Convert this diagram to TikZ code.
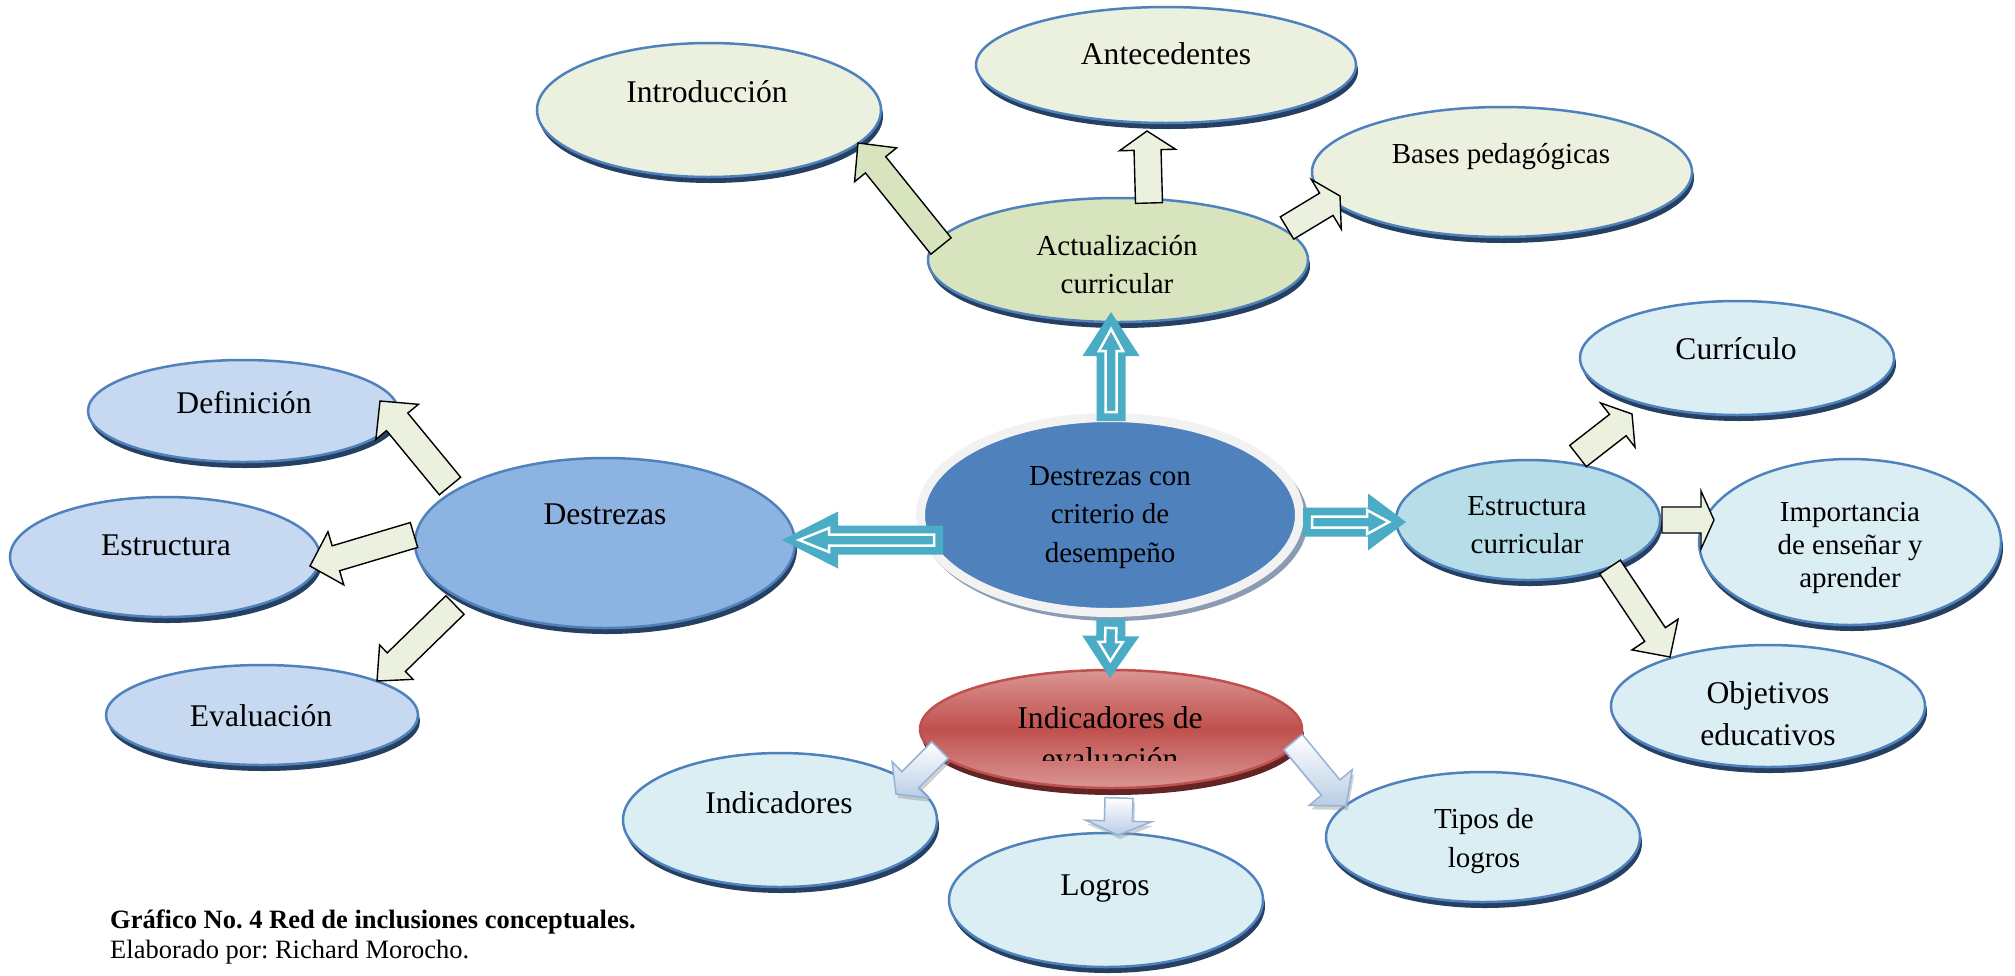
\documentclass[tikz,border=0pt]{standalone}
\usepackage{fontspec}
\setmainfont{Liberation Serif}
\usetikzlibrary{shapes.geometric,calc,shadows}
\frenchspacing

\definecolor{bordc}{HTML}{4F81BD}
\definecolor{shadc}{HTML}{254061}
\definecolor{greenpale}{HTML}{EBF1DE}
\definecolor{greenmid}{HTML}{D7E4BD}
\definecolor{bluepale}{HTML}{C6D9F1}
\definecolor{bluemid}{HTML}{8DB3E2}
\definecolor{cyanpale}{HTML}{DBEEF4}
\definecolor{cyanmid}{HTML}{B7DEE8}
\definecolor{coreblue}{HTML}{4F81BD}
\definecolor{rimc}{HTML}{F2F2F2}
\definecolor{coreshad}{HTML}{8A9BB3}
\definecolor{tealc}{HTML}{4BACC6}
\definecolor{redmid}{HTML}{C0504D}
\definecolor{redpale}{HTML}{DA9694}
\definecolor{redshad}{HTML}{632523}
\definecolor{arrowline}{HTML}{95B3D7}
\definecolor{arrowfill}{HTML}{B9CDE5}

% block arrow: tail, tip, half body width, half head width, head length, style
\newcommand\blockarr[6]{%
  \path ($(#2)!#5!(#1)$) coordinate (hb);
  \path[#6] ($(#1)!#3!90:(#2)$) -- ($(hb)!#3!90:(#2)$) -- ($(hb)!#4!90:(#2)$)
    -- (#2) -- ($(hb)!#4!-90:(#2)$) -- ($(hb)!#3!-90:(#2)$) -- ($(#1)!#3!-90:(#2)$) -- cycle;
}
% teal arrow with a white outlined arrow inside: tail, tip, head length, inner head length
\newcommand\tealarr[4]{%
  \blockarr{#1}{#2}{14.5pt}{28.5pt}{#3}{fill=tealc}
  \path ($(#1)!9pt!(#2)$) coordinate (it0) ($(#2)!17pt!(#1)$) coordinate (it1);
  \blockarr{it0}{it1}{5.5pt}{12pt}{#4}{draw=white, line width=2.5pt, fill=tealc, line join=miter}
}
% shaded arrow with a soft shadow: tail, tip, half body, half head, head length
\newcommand\gradarr[5]{%
  \path ($(#1)+(2,4)$) coordinate (gs0) ($(#2)+(2,4)$) coordinate (gs1);
  \blockarr{gs0}{gs1}{#3}{#4}{#5}{fill=black!40, opacity=0.45}
  \blockarr{#1}{#2}{#3}{#4}{#5}{gradstyle}
}
% bubble: name, x, y, rx, ry, fill, extra
\newcommand\bubble[7]{%
  \node[bub, fill=#6, minimum width=#4*2, minimum height=#5*2, #7] (#1) at (#2,#3) {};
}
\newcommand\stackedtext[1]{\begin{tabular}[t]{@{}c@{}}#1\end{tabular}}

\begin{document}
\begin{tikzpicture}[x=1pt,y=-1pt,
  bub/.style={ellipse, draw=bordc, line width=2.5pt, inner sep=0pt,
    drop shadow={shadow xshift=2pt, shadow yshift=-6pt, fill=shadc, opacity=1}},
  beige/.style={draw=black, line width=1.4pt, line join=miter, fill=greenpale},
  gradstyle/.style={draw=arrowline, line width=1.5pt, line join=miter,
    top color=white, bottom color=arrowfill},
  lbl/.style={anchor=base, inner sep=0pt},
  big/.style={lbl, font=\fontsize{31.6}{41}\selectfont},
  small/.style={lbl, font=\fontsize{29}{38.5}\selectfont}]

\useasboundingbox (0,0) rectangle (2015,975);
\fill[white] (0,0) rectangle (2015,975);

% ---- outer bubbles
\bubble{intro}{709}{110}{172}{67}{greenpale}{}
\bubble{antec}{1166}{65}{190}{58}{greenpale}{}
\bubble{bases}{1502}{172}{190}{65}{greenpale}{}
\bubble{actual}{1118}{260}{190}{62}{greenmid}{}
\bubble{destr}{605}{543}{190}{85}{bluemid}{}
\bubble{defin}{243}{411}{155}{51}{bluepale}{}
\bubble{estru}{165}{557}{155}{60}{bluepale}{}
\bubble{evalu}{262}{715}{156}{50}{bluepale}{}
\bubble{estcur}{1528}{520}{132}{60}{cyanmid}{}
\bubble{curri}{1737}{358}{157}{57}{cyanpale}{}
\bubble{impor}{1850}{542}{151}{83}{cyanpale}{}
\bubble{objet}{1768}{706}{157}{61}{cyanpale}{}
\bubble{indic}{780}{820}{157}{67}{cyanpale}{}
\bubble{logros}{1106}{900}{157}{67}{cyanpale}{}
\bubble{tipos}{1483}{837}{157}{65}{cyanpale}{}

% ---- red bubble
\node[ellipse, draw=redmid, line width=2.5pt, inner sep=0pt,
  top color=redpale, bottom color=redpale, middle color=redmid,
  minimum width=382, minimum height=118,
  drop shadow={shadow xshift=2pt, shadow yshift=-7pt, fill=redshad, opacity=1}]
  (indev) at (1111,729) {};

% ---- central bubble
\fill[coreshad] (1114,520) ellipse [x radius=194pt, y radius=101pt];
\node[ellipse, fill=coreblue, draw=rimc, line width=9pt, inner sep=0pt,
  minimum width=379, minimum height=195] (core) at (1110,515) {};

% ---- teal arrows from the centre
\coordinate (up0) at (1111,421); \coordinate (up1) at (1111,312);
\coordinate (dn0) at (1111,619); \coordinate (dn1) at (1110,678);
\coordinate (rt0) at (1303,522); \coordinate (rt1) at (1406,522);
\coordinate (lf0) at (943,540);  \coordinate (lf1) at (782,540);
\tealarr{up0}{up1}{44pt}{22pt}
\tealarr{dn0}{dn1}{42pt}{19pt}
\tealarr{rt0}{rt1}{38pt}{22pt}
\tealarr{lf0}{lf1}{56pt}{30pt}

% ---- outlined arrows
\coordinate (a1) at (941,246);  \coordinate (a2) at (858,143);
\coordinate (b1) at (1149,203); \coordinate (b2) at (1147,131);
\coordinate (c1) at (1287,228); \coordinate (c2) at (1340,196);
\coordinate (d1) at (450,486);  \coordinate (d2) at (380,401);
\coordinate (e1) at (414,535);  \coordinate (e2) at (310,566);
\coordinate (f1) at (455,605);  \coordinate (f2) at (377,681);
\coordinate (g1) at (1578,456); \coordinate (g2) at (1632,414);
\coordinate (h1) at (1662,520); \coordinate (h2) at (1714,520);
\coordinate (i1) at (1610,567); \coordinate (i2) at (1670,657);
\blockarr{a1}{a2}{13pt}{27pt}{28pt}{beige, fill=greenmid}
\blockarr{b1}{b2}{13.5pt}{28pt}{19pt}{beige}
\blockarr{c1}{c2}{13pt}{29pt}{16pt}{beige}
\blockarr{d1}{d2}{13.8pt}{27.6pt}{27pt}{beige}
\blockarr{e1}{e2}{13pt}{27.7pt}{27pt}{beige}
\blockarr{f1}{f2}{13pt}{24pt}{27pt}{beige}
\blockarr{g1}{g2}{13.5pt}{28pt}{18pt}{beige}
\blockarr{h1}{h2}{13pt}{29pt}{13pt}{beige}
\blockarr{i1}{i2}{12.4pt}{27.7pt}{27pt}{beige}

% ---- shaded arrows below the red bubble
\coordinate (j1) at (940,750);  \coordinate (j2) at (896,794);
\coordinate (k1) at (1119,798); \coordinate (k2) at (1118,835);
\coordinate (l1) at (1293,742); \coordinate (l2) at (1346,806);
\gradarr{j1}{j2}{11.7pt}{25.5pt}{20pt}
\gradarr{k1}{k2}{14pt}{33pt}{14pt}
\gradarr{l1}{l2}{12pt}{28pt}{24pt}

% ---- labels
\node[big] (introT) at (707,102) {Introducción};
\node[big] (antecT) at (1166,64) {Antecedentes};
\node[small] (basesT) at (1501,163) {Bases pedagógicas};
\node[small,font=\fontsize{29}{38}\selectfont] (actualT) at (1117,255) {\stackedtext{Actualización\\curricular}};
\node[small] (coreT) at (1110,485) {\stackedtext{Destrezas con\\criterio de\\desempeño}};
\node[big] (destrT) at (605,524) {Destrezas};
\node[big] (definT) at (244,413) {Definición};
\node[big] (estruT) at (166,555) {Estructura};
\node[big] (evaluT) at (261,726) {Evaluación};
\node[small,font=\fontsize{29}{38}\selectfont] (estcurT) at (1527,515) {\stackedtext{Estructura\\curricular}};
\node[big] (curriT) at (1736,359) {Currículo};
\node[small,font=\fontsize{29}{33}\selectfont] (imporT) at (1850,521) {\stackedtext{Importancia\\de enseñar y\\aprender}};
\node[big,font=\fontsize{31.6}{42}\selectfont] (objetT) at (1768,703) {\stackedtext{Objetivos\\educativos}};
\begin{scope}
  \clip (900,680) rectangle (1320,760);
  \node[big] (indevT) at (1110,728) {\stackedtext{Indicadores de\\evaluación}};
\end{scope}
\node[big] (indicT) at (779,813) {Indicadores};
\node[big] (logrosT) at (1105,895) {Logros};
\node[small,font=\fontsize{29}{39}\selectfont] (tiposT) at (1484,828) {\stackedtext{Tipos de\\logros}};

% ---- caption
\node[anchor=base west, inner sep=0pt, font=\fontsize{26.5}{30}\selectfont\bfseries]
  (capA) at (110,928) {Gráfico No. 4 Red de inclusiones conceptuales.};
\node[anchor=base west, inner sep=0pt, font=\fontsize{26.5}{30}\selectfont]
  (capB) at (110,958) {Elaborado por: Richard Morocho.};
\end{tikzpicture}
\end{document}
